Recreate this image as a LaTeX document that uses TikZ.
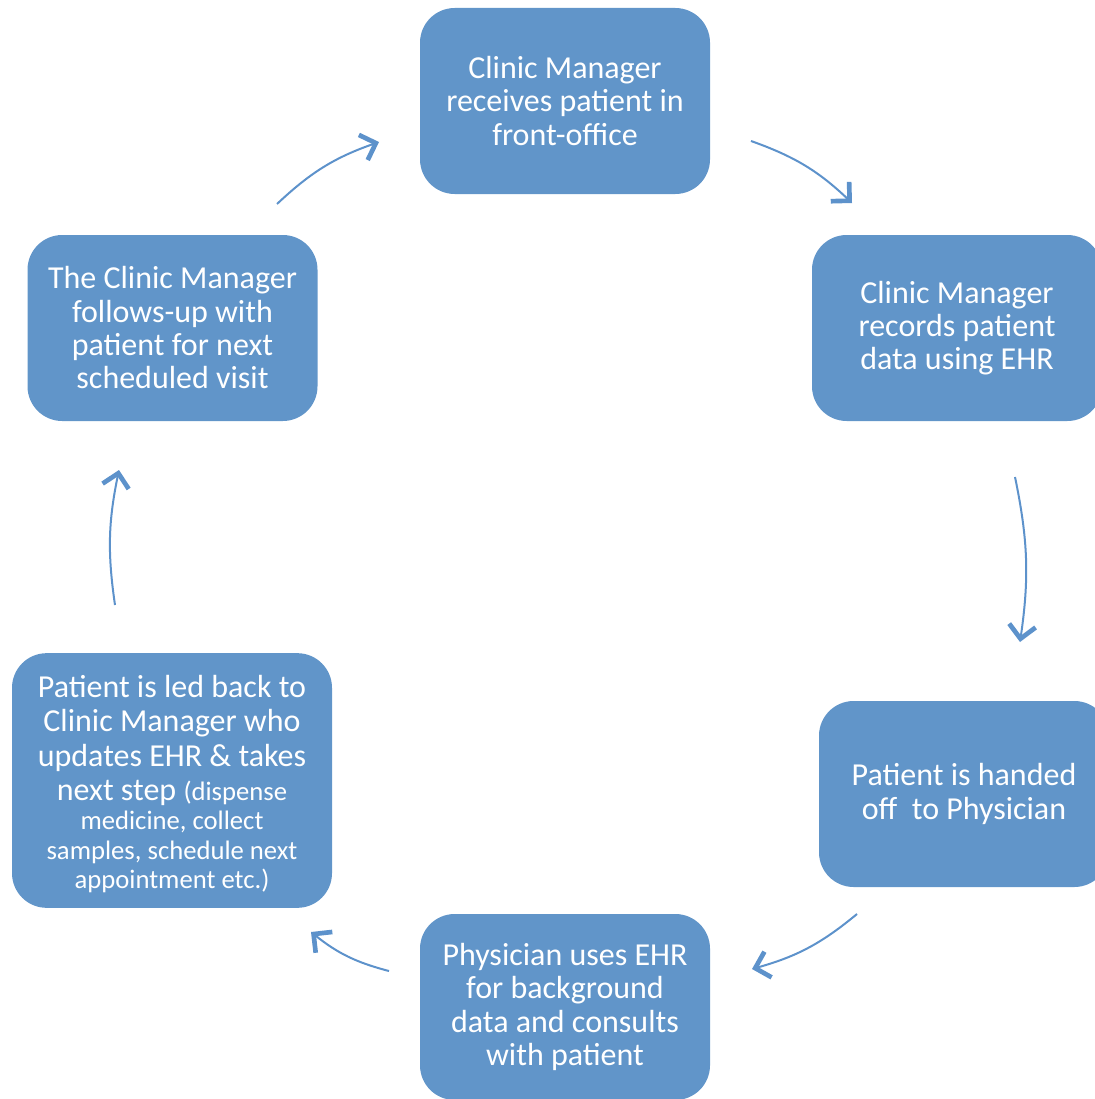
\documentclass[tikz,border=0pt]{standalone}
\usepackage{fontspec}
\setmainfont{Carlito}
\usetikzlibrary{arrows.meta}
\definecolor{boxblue}{HTML}{6195C9}
\definecolor{arrowblue}{HTML}{5D92CB}
\newcommand\smalltxt{\fontsize{20}{21.75}\selectfont}
\begin{document}
\begin{tikzpicture}[x=0.75pt,y=-0.75pt,
  stage/.style={fill=boxblue,rounded corners=26pt,minimum width=217.5pt,minimum height=139.5pt,
    text=white,align=center,inner sep=0pt,font=\fontsize{24}{25}\selectfont},
  flow/.style={arrowblue,line width=1.5pt,-{Straight Barb[length=10pt,width=20pt,line width=3.5pt]}}]
\useasboundingbox (0,0) rectangle (1095,1099);
\node[stage] (receive) at (565,101) {Clinic Manager\\receives patient in\\front-office};
\node[stage] (record) at (957,328) {Clinic Manager\\records patient\\data using EHR};
\node[stage] (handoff) at (964,794) {Patient is handed\\off~~to Physician};
\node[stage] (consult) at (565,1007) {Physician uses EHR\\for background\\data and consults\\with patient};
\node[stage,minimum width=240pt,minimum height=191pt] (ledback) at (172,780.5) {};
\node[text=white,align=center,inner sep=0pt,font=\fontsize{24}{25}\selectfont] (ledtext) at (172,784)
  {Patient is led back to\\[0.75pt]Clinic Manager who\\[0.75pt]updates EHR \& takes\\[0.75pt]next step {\smalltxt(dispense}\\[-3pt]{\smalltxt medicine, collect}\\[-3pt]{\smalltxt samples, schedule next}\\[-3pt]{\smalltxt appointment etc.)}};
\node[stage] (followup) at (172.5,328) {The Clinic Manager\\follows-up with\\patient for next\\scheduled visit};
% free ends of the arrows
\coordinate (a1) at (277,204); \coordinate (b1) at (379,142);
\coordinate (a2) at (751,141); \coordinate (b2) at (852,203);
\coordinate (a3) at (1015,477); \coordinate (b3) at (1020,642);
\coordinate (a4) at (857,914); \coordinate (b4) at (752,969);
\coordinate (a5) at (389,971); \coordinate (b5) at (311,932);
\coordinate (a6) at (115,605); \coordinate (b6) at (119,470);
\draw[flow] (a1) to[bend left=12] (b1);
\draw[flow] (a2) to[bend left=12] (b2);
\draw[flow] (a3) to[bend left=10] (b3);
\draw[flow] (a4) to[bend left=12] (b4);
\draw[flow] (a5) to[bend left=12] (b5);
\draw[flow] (a6) to[bend left=10] (b6);
\end{tikzpicture}
\end{document}
